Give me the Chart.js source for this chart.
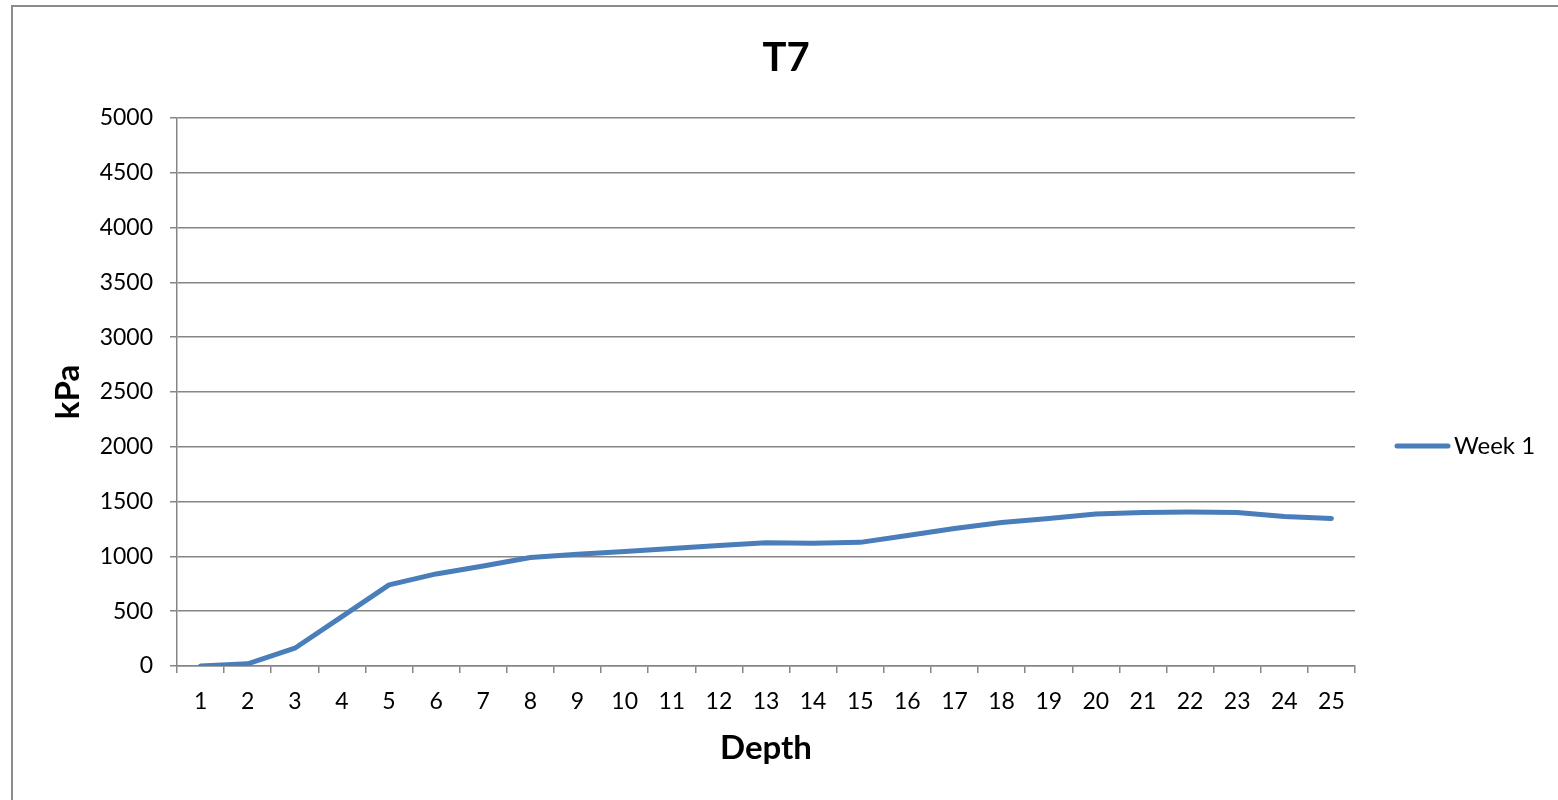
<!DOCTYPE html>
<html>
<head>
<meta charset="utf-8">
<title>T7</title>
<script src="https://cdn.jsdelivr.net/npm/chart.js@4/dist/chart.umd.min.js"></script>
<style>
  html, body { margin: 0; padding: 0; background: #ffffff; overflow: hidden; }
  #frame { position: absolute; left: 11px; top: 5px; width: 1600px; height: 900px;
           border-left: 2px solid #8c8c8c; border-top: 2px solid #8c8c8c; box-sizing: border-box; }
  #wrap { position: absolute; left: 0; top: 0; width: 1558px; height: 800px; }
</style>
</head>
<body>
<div id="frame"></div>
<div id="wrap"><canvas id="chart" width="1558" height="800"></canvas></div>
<script>
// Depth steps along the horizontal axis
const depths = ['1','2','3','4','5','6','7','8','9','10','11','12','13','14','15','16','17','18','19','20','21','22','23','24','25'];
// Penetration resistance (kPa) for the first week
const week1 = [0, 20, 162, 450, 740, 840, 912, 990, 1020, 1045, 1073, 1100, 1125, 1120, 1128, 1191, 1255, 1310, 1346, 1386, 1401, 1404, 1401, 1364, 1346];
// Vertical axis range
const yMin = 0, yMax = 5000, yStep = 500;

const chartTitle = 'T7';
const xTitle = 'Depth';
const yTitle = 'kPa';
const seriesName = 'Week 1';

const FONT = 'Lato, "Open Sans", sans-serif';
const GRID = '#868686';
const LINE = '#4a7ebb';

// Title, axis titles and legend drawn at fixed spots around the plot area
const decorations = {
  id: 'decorations',
  afterDraw(chart) {
    const ctx = chart.ctx;
    const area = chart.chartArea;
    ctx.save();
    ctx.fillStyle = '#000000';
    ctx.textAlign = 'center';
    ctx.textBaseline = 'middle';

    ctx.font = 'bold 40px ' + FONT;
    ctx.fillText(chartTitle, 786, 58);

    ctx.font = 'bold 33px ' + FONT;
    ctx.fillText(xTitle, (area.left + area.right) / 2, 748);

    ctx.save();
    ctx.translate(68, (area.top + area.bottom) / 2);
    ctx.rotate(-Math.PI / 2);
    ctx.fillText(yTitle, 0, 0);
    ctx.restore();

    // legend entry
    const ds = chart.data.datasets[0];
    const ly = 446;
    ctx.strokeStyle = ds.borderColor;
    ctx.lineWidth = 5;
    ctx.lineCap = 'round';
    ctx.beginPath();
    ctx.moveTo(1397, ly);
    ctx.lineTo(1448, ly);
    ctx.stroke();
    ctx.textAlign = 'left';
    ctx.font = '24px ' + FONT;
    ctx.fillText(ds.label, 1454, ly);
    ctx.restore();
  }
};

new Chart(document.getElementById('chart'), {
  type: 'line',
  data: {
    labels: depths,
    datasets: [{
      label: seriesName,
      data: week1,
      borderColor: LINE,
      backgroundColor: LINE,
      borderWidth: 5,
      borderCapStyle: 'round',
      borderJoinStyle: 'round',
      pointRadius: 0,
      pointHoverRadius: 0,
      tension: 0,
      fill: false
    }]
  },
  options: {
    responsive: false,
    animation: false,
    devicePixelRatio: 1,
    layout: { padding: { left: 0, top: 118, right: 203, bottom: 0 } },
    plugins: {
      legend: { display: false },
      title: { display: false },
      tooltip: { enabled: false }
    },
    scales: {
      x: {
        type: 'category',
        offset: true,
        afterFit(scale) { scale.height = 134; },
        grid: {
          offset: true,
          drawOnChartArea: false,
          drawTicks: true,
          tickLength: 7,
          color: GRID,
          lineWidth: 1.5
        },
        border: { display: true, color: GRID, width: 1.5 },
        ticks: {
          color: '#000000',
          font: { family: FONT, size: 23 },
          padding: 15,
          maxRotation: 0,
          autoSkip: false
        }
      },
      y: {
        min: yMin,
        max: yMax,
        afterFit(scale) { scale.width = 177; },
        grid: {
          color: GRID,
          lineWidth: 1.5,
          drawTicks: true,
          tickLength: 7
        },
        border: { display: true, color: GRID, width: 1.5 },
        ticks: {
          stepSize: yStep,
          color: '#000000',
          font: { family: FONT, size: 23 },
          padding: 17,
          callback: (v) => String(v)
        }
      }
    }
  },
  plugins: [decorations]
});
</script>
</body>
</html>
